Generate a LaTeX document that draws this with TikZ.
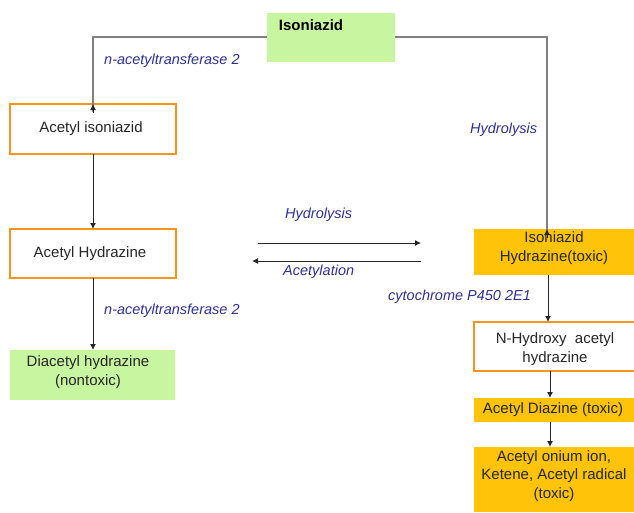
\documentclass[tikz,border=0pt]{standalone}
\usepackage{fontspec}
\setmainfont{Liberation Sans}
\usetikzlibrary{arrows.meta}
\definecolor{lgreen}{HTML}{C8F5A0}
\definecolor{gold}{HTML}{FFC409}
\definecolor{obord}{HTML}{F7941D}
\definecolor{navy}{HTML}{2E3192}
\begin{document}
\begin{tikzpicture}[x=1pt,y=-1pt,
  box/.style={draw=obord,line width=1.8pt,fill=white,inner sep=0pt},
  greenbox/.style={fill=lgreen,inner sep=0pt},
  goldbox/.style={fill=gold,inner sep=0pt},
  txt/.style={font=\fontsize{15}{18.5}\selectfont,text=black!85,align=center,inner sep=0pt},
  lab/.style={font=\fontsize{14.5}{17}\selectfont\itshape,text=navy,inner sep=0pt,anchor=west},
  arr/.style={draw=black!85,line width=1pt,-{Latex[length=6pt,width=6pt]}},
  gline/.style={draw=black!50,line width=1.4pt}]
\useasboundingbox (0,0) rectangle (634,512);
% boxes
\path[greenbox] (267,13) rectangle (395,62);
\node[txt,font=\fontsize{15}{18}\selectfont\bfseries,text=black] (iso) at (311,25) {Isoniazid};
\coordinate (isoL) at (267,37);
\coordinate (isoR) at (395,37);
\path[box] (10,104) rectangle (176,154);
\node[txt] (aiso) at (91,129) {Acetyl isoniazid};
\path[box] (10,229) rectangle (176,278);
\node[txt] (ahyd) at (90,254) {Acetyl Hydrazine};
\path[greenbox] (10,350) rectangle (175,400);
\node[txt] (dia) at (88,372) {Diacetyl hydrazine\\(nontoxic)};
\path[goldbox] (474,229) rectangle (634,275);
\node[txt] (ihyd) at (554,248) {Isoniazid\\Hydrazine(toxic)};
\path[box] (474,322) rectangle (640,371);
\node[txt] (nhyd) at (555,349) {N-Hydroxy\ \ acetyl\\hydrazine};
\path[goldbox] (474,398) rectangle (634,422);
\node[txt] (adia) at (553,410) {Acetyl Diazine (toxic)};
\path[goldbox] (474,447) rectangle (634,512);
\node[txt] (aon) at (554,476) {Acetyl onium ion,\\Ketene, Acetyl radical\\(toxic)};
% coordinates for connectors
\coordinate (c1) at (93,37);
\coordinate (c2) at (547,37);
\coordinate (aisoT) at (93,104);
\coordinate (aisoB) at (93,154);
\coordinate (ahydT) at (93,229);
\coordinate (ahydB) at (93,278);
\coordinate (diaT) at (93,350);
\coordinate (ihydT) at (547,229);
\coordinate (ihydB) at (548,275);
\coordinate (nhydT) at (548,322);
\coordinate (nhydB) at (550,371);
\coordinate (adiaT) at (550,398);
\coordinate (adiaB) at (550,422);
\coordinate (aonT) at (550,447);
\coordinate (h1) at (258,243);
\coordinate (h2) at (421,243);
\coordinate (a1) at (421,261);
\coordinate (a2) at (252,261);
% connectors
\draw[gline] (isoL) -- (c1) -- ([yshift=-8]aisoT);
\draw[arr] ([yshift=-9]aisoT) -- (aisoT);
\draw[gline] (isoR) -- (c2) -- ([yshift=-8]ihydT);
\draw[arr] ([yshift=-9]ihydT) -- (ihydT);
\draw[arr] (aisoB) -- (ahydT);
\draw[arr] (ahydB) -- (diaT);
\draw[arr] (ihydB) -- (nhydT);
\draw[arr] (nhydB) -- (adiaT);
\draw[arr] (adiaB) -- (aonT);
\draw[arr] (h1) -- (h2);
\draw[arr] (a1) -- (a2);
% labels
\node[lab] (l1) at (104,61) {n-acetyltransferase 2};
\node[lab] (l2) at (470,130) {Hydrolysis};
\node[lab] (l3) at (285,215) {Hydrolysis};
\node[lab] (l4) at (283,272) {Acetylation};
\node[lab] (l5) at (104,311) {n-acetyltransferase 2};
\node[lab] (l6) at (388,297) {cytochrome P450 2E1};
\end{tikzpicture}
\end{document}
